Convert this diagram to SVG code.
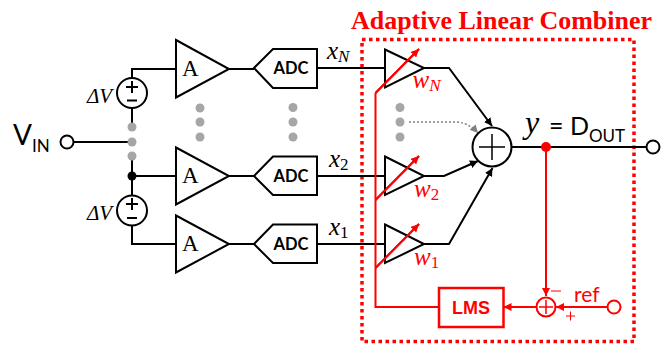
<svg xmlns="http://www.w3.org/2000/svg" width="670" height="347" viewBox="0 0 670 347">
<style>
.w{fill:none;stroke:#000;stroke-width:2}
.r{fill:none;stroke:#f00;stroke-width:2}
.s{fill:#fff;stroke:#000;stroke-width:2}
.g{fill:#a6a6a6}
.m{font-family:"Liberation Serif",serif;font-style:italic;font-size:25px;fill:#000}
.dv{font-family:"Liberation Serif",serif;font-style:italic;font-size:21px;fill:#000}
.mr{font-family:"Liberation Serif",serif;font-style:italic;font-size:25px;fill:#f00}
.sub{font-size:17px}
.amp{font-family:"Liberation Serif",serif;font-size:23px;fill:#000}
.adc{font-family:Lato,sans-serif;font-weight:700;font-size:16.500px;fill:#000;text-anchor:middle}
.c{font-family:Lato,sans-serif;fill:#000}
</style>
<defs>
<marker id="ak" markerUnits="userSpaceOnUse" markerWidth="9" markerHeight="8" refX="8" refY="4" orient="auto"><path d="M0,0L8,4L0,8Z" fill="#000"/></marker>
<marker id="ag" markerUnits="userSpaceOnUse" markerWidth="9" markerHeight="8" refX="8" refY="4" orient="auto"><path d="M0,0L8,4L0,8Z" fill="#808080"/></marker>
<marker id="ar" markerUnits="userSpaceOnUse" markerWidth="9" markerHeight="8" refX="8" refY="4" orient="auto"><path d="M0,0L8,4L0,8Z" fill="#f00"/></marker>
</defs>
<rect id="combiner-box" x="362" y="39.500" width="272" height="302" fill="none" stroke="#f00" stroke-width="3.500" stroke-dasharray="3.500 3.500"/>
<text id="title" x="351" y="29" font-family="Liberation Serif,serif" font-weight="700" font-size="24.500" fill="#f00" textLength="301" lengthAdjust="spacingAndGlyphs">Adaptive Linear Combiner</text>
<g id="connectors">
<path class="w" d="M73.500,142H132M132,108V127M132,156V196M132,176H176M132,78V69H176M132,226V244H176"/>
<path class="w" d="M229,69H254M229,176H254M229,244H254"/>
<path class="w" d="M317,68H385M317,176H385M317,244H385"/>
<path class="w" d="M424,68H449L492,126" marker-end="url(#ak)"/>
<path class="w" d="M424,176H444L478,161" marker-end="url(#ak)"/>
<path class="w" d="M424,244H449L492.500,168" marker-end="url(#ak)"/>
<path d="M409,122H455Q468,122 478,133" fill="none" stroke="#808080" stroke-width="1.500" stroke-dasharray="2 2" marker-end="url(#ag)"/>
<path class="w" d="M512,147H646.500"/>
<path class="r" d="M375.500,93L419,49" marker-end="url(#ar)"/>
<path class="r" d="M375.500,200L419,156" marker-end="url(#ar)"/>
<path class="r" d="M375.500,268L419,224" marker-end="url(#ar)"/>
<path class="r" d="M375.500,93V307H439"/>
<path class="r" d="M546,147V296" marker-end="url(#ar)"/>
<path class="r" d="M536,307H503.500" marker-end="url(#ar)"/>
<path class="r" d="M607.500,307H556" marker-end="url(#ar)"/>
</g>
<g id="vin"><circle class="s" cx="67" cy="142" r="6.500"/><text class="c" x="13" y="145" font-size="28">V<tspan font-size="17" dy="7">IN</tspan></text></g>
<g id="battery-top"><circle class="s" cx="132" cy="93" r="15"/><path class="w" d="M126,87H138M132,81V93M127,100.500H137"/><text class="dv" x="87" y="102.500">ΔV</text></g>
<g id="battery-bottom"><circle class="s" cx="132" cy="210.500" r="15"/><path class="w" d="M126,204H138M132,198V210M127,218H137"/><text class="dv" x="87" y="220">ΔV</text></g>
<g id="dots">
<circle class="g" cx="132" cy="127" r="4.500"/><circle class="g" cx="132" cy="142" r="4.500"/><circle class="g" cx="132" cy="156" r="4.500"/>
<circle cx="132" cy="176" r="4.500" fill="#000"/>
<circle class="g" cx="200" cy="108" r="4.500"/><circle class="g" cx="200" cy="122" r="4.500"/><circle class="g" cx="200" cy="137" r="4.500"/>
<circle class="g" cx="293" cy="107.500" r="4.500"/><circle class="g" cx="293" cy="122" r="4.500"/><circle class="g" cx="293" cy="137" r="4.500"/>
<circle class="g" cx="400" cy="107.500" r="4.500"/><circle class="g" cx="400" cy="122" r="4.500"/><circle class="g" cx="400" cy="137" r="4.500"/>
</g>
<g id="amp-n"><path class="s" d="M176,40L229,69L176,97.500Z"/><text class="amp" x="182" y="76">A</text></g>
<g id="amp-2"><path class="s" d="M176,147.500L229,176L176,204.500Z"/><text class="amp" x="182" y="183">A</text></g>
<g id="amp-1"><path class="s" d="M176,215.500L229,244L176,272.500Z"/><text class="amp" x="182" y="251">A</text></g>
<g id="adc-n"><path class="s" d="M254,68L273,49H317V88H273Z"/><text class="adc" x="291" y="74">ADC</text></g>
<g id="adc-2"><path class="s" d="M254,176L273,156.500H317V195H273Z"/><text class="adc" x="291" y="182">ADC</text></g>
<g id="adc-1"><path class="s" d="M254,244L273,224.500H317V263H273Z"/><text class="adc" x="291" y="250">ADC</text></g>
<g id="x-labels">
<text class="m" x="327" y="59">x<tspan class="sub" dy="3">N</tspan></text>
<text class="m" x="329" y="167">x<tspan class="sub" dy="3" font-style="normal">2</tspan></text>
<text class="m" x="329" y="235">x<tspan class="sub" dy="3" font-style="normal">1</tspan></text>
</g>
<g id="weight-n"><path class="w" d="M385,49.500L424,68L385,87.500Z"/><path class="r" d="M375.500,93L419,49"/><text class="mr" x="412.500" y="88">w<tspan class="sub" dy="3">N</tspan></text></g>
<g id="weight-2"><path class="w" d="M385,156.500L424,176L385,195Z"/><path class="r" d="M375.500,200L419,156"/><text class="mr" x="414" y="197">w<tspan class="sub" dy="3" font-style="normal">2</tspan></text></g>
<g id="weight-1"><path class="w" d="M385,224.500L424,244L385,263Z"/><path class="r" d="M375.500,268L419,224"/><text class="mr" x="414" y="265">w<tspan class="sub" dy="3" font-style="normal">1</tspan></text></g>
<g id="sum"><circle class="s" cx="492" cy="147" r="19.500"/><path d="M479,147H505M492,134V160" stroke="#000" stroke-width="1.500" fill="none"/></g>
<g id="output"><circle class="s" cx="653" cy="147" r="6.500"/><circle cx="546" cy="147" r="5" fill="#f00"/>
<text x="525" y="133" font-family="Liberation Serif,serif" font-style="italic" font-size="32" fill="#000">y</text><text class="c" x="549" y="135" font-size="25">= D<tspan font-size="17" dy="7">OUT</tspan></text></g>
<g id="lms"><rect x="439" y="288" width="64.500" height="39" fill="#fff" stroke="#f00" stroke-width="2.500"/><text x="471" y="314" font-family="Liberation Sans,sans-serif" font-weight="700" font-size="18" fill="#f00" text-anchor="middle">LMS</text></g>
<g id="error-sum"><circle cx="546" cy="307" r="9.500" fill="#fff" stroke="#f00" stroke-width="2"/><path d="M539,307H553M546,300V314" stroke="#f00" stroke-width="1.500" fill="none"/>
<path d="M551,291H561M566,316H575M570.500,311.500V320.500" stroke="#f00" stroke-width="1" fill="none"/></g>
<g id="ref"><circle cx="614" cy="307" r="6.500" fill="#fff" stroke="#f00" stroke-width="2"/><text x="574" y="302" font-family="Lato,sans-serif" font-size="21" fill="#f00">ref</text></g>
</svg>
